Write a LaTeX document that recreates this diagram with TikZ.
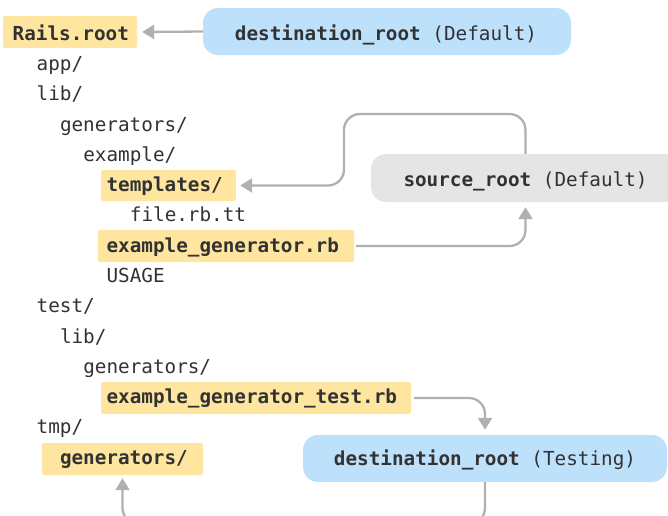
\documentclass[tikz,border=0pt]{standalone}
\usepackage{fontspec}
\setmonofont{DejaVu Sans Mono}
\usetikzlibrary{arrows.meta}
\definecolor{ylw}{RGB}{254,229,160}
\definecolor{blu}{RGB}{190,225,251}
\definecolor{gry}{RGB}{229,229,229}
\definecolor{cline}{RGB}{176,176,176}
\definecolor{txt}{RGB}{50,50,50}
\tikzset{
  every node/.style={font=\ttfamily\fontsize{19.3pt}{23pt}\selectfont, text=txt},
  lbl/.style={inner sep=0pt, anchor=base west},
  clbl/.style={inner sep=0pt, anchor=base},
  ybox/.style={fill=ylw, rounded corners=2pt, inner sep=0pt},
  bbox/.style={fill=blu, rounded corners=15pt, inner sep=0pt},
  gbox/.style={fill=gry, rounded corners=15pt, inner sep=0pt},
  conn/.style={draw=cline, line width=2.3pt, rounded corners=16pt,
    -{Triangle[length=12pt,width=14pt]}}
}
\begin{document}
\begin{tikzpicture}[x=1pt,y=-1pt]
\useasboundingbox (0,0) rectangle (668,515);
% boxes
\node[ybox, minimum width=134pt, minimum height=32pt] (rails) at (70,32) {};
\node[ybox, minimum width=135pt, minimum height=31pt] (templ) at (168.5,185.5) {};
\node[ybox, minimum width=256pt, minimum height=32pt] (eg) at (226,246) {};
\node[ybox, minimum width=310pt, minimum height=32pt] (egt) at (256,398) {};
\node[ybox, minimum width=161pt, minimum height=32pt] (tmpgen) at (122.5,459) {};
\node[bbox, minimum width=368pt, minimum height=47pt] (dstd) at (387,31.5) {};
\node[gbox, minimum width=309pt, minimum height=48pt] (src) at (525.5,178) {};
\node[bbox, minimum width=364pt, minimum height=47pt] (dstt) at (485,458.5) {};
% tree labels
\node[lbl] (t0) at (12.5,40) {\textbf{Rails.root}};
\node[lbl] (t1) at (36.5,70.3) {app/};
\node[lbl] (t2) at (36.5,100.6) {lib/};
\node[lbl] (t3) at (59.8,131) {generators/};
\node[lbl] (t4) at (83.1,161.2) {example/};
\node[lbl] (t5) at (106.4,191.5) {\textbf{templates/}};
\node[lbl] (t6) at (129.7,221.8) {file.rb.tt};
\node[lbl] (t7) at (106.4,252) {\textbf{example\_generator.rb}};
\node[lbl] (t8) at (106.4,282.4) {USAGE};
\node[lbl] (t9) at (36.5,312.7) {test/};
\node[lbl] (t10) at (59.8,343) {lib/};
\node[lbl] (t11) at (83.1,373.3) {generators/};
\node[lbl] (t12) at (106.4,403.6) {\textbf{example\_generator\_test.rb}};
\node[lbl] (t13) at (36.5,433.9) {tmp/};
\node[lbl] (t14) at (59.8,464.2) {\textbf{generators/}};
% root labels
\node[clbl] (l1) at (386,40) {\textbf{destination\_root} (Default)};
\node[clbl] (l2) at (525.5,186.7) {\textbf{source\_root} (Default)};
\node[clbl] (l3) at (485,465) {\textbf{destination\_root} (Testing)};
% connectors
\coordinate (loopc) at (344,114);
\coordinate (bot) at (300,524);
\draw[conn] (dstd.west) -- ([xshift=5pt]rails.east);
\draw[conn] (src.north) |- (loopc) |- ([xshift=4pt]templ.east);
\draw[conn] ([xshift=2pt]eg.east) -| ([yshift=-5pt]src.south);
\draw[conn] ([xshift=3pt]egt.east) -| ([yshift=5pt]dstt.north);
\draw[conn] (dstt.south) |- (bot) -| ([yshift=-3pt]tmpgen.south);
\end{tikzpicture}
\end{document}
